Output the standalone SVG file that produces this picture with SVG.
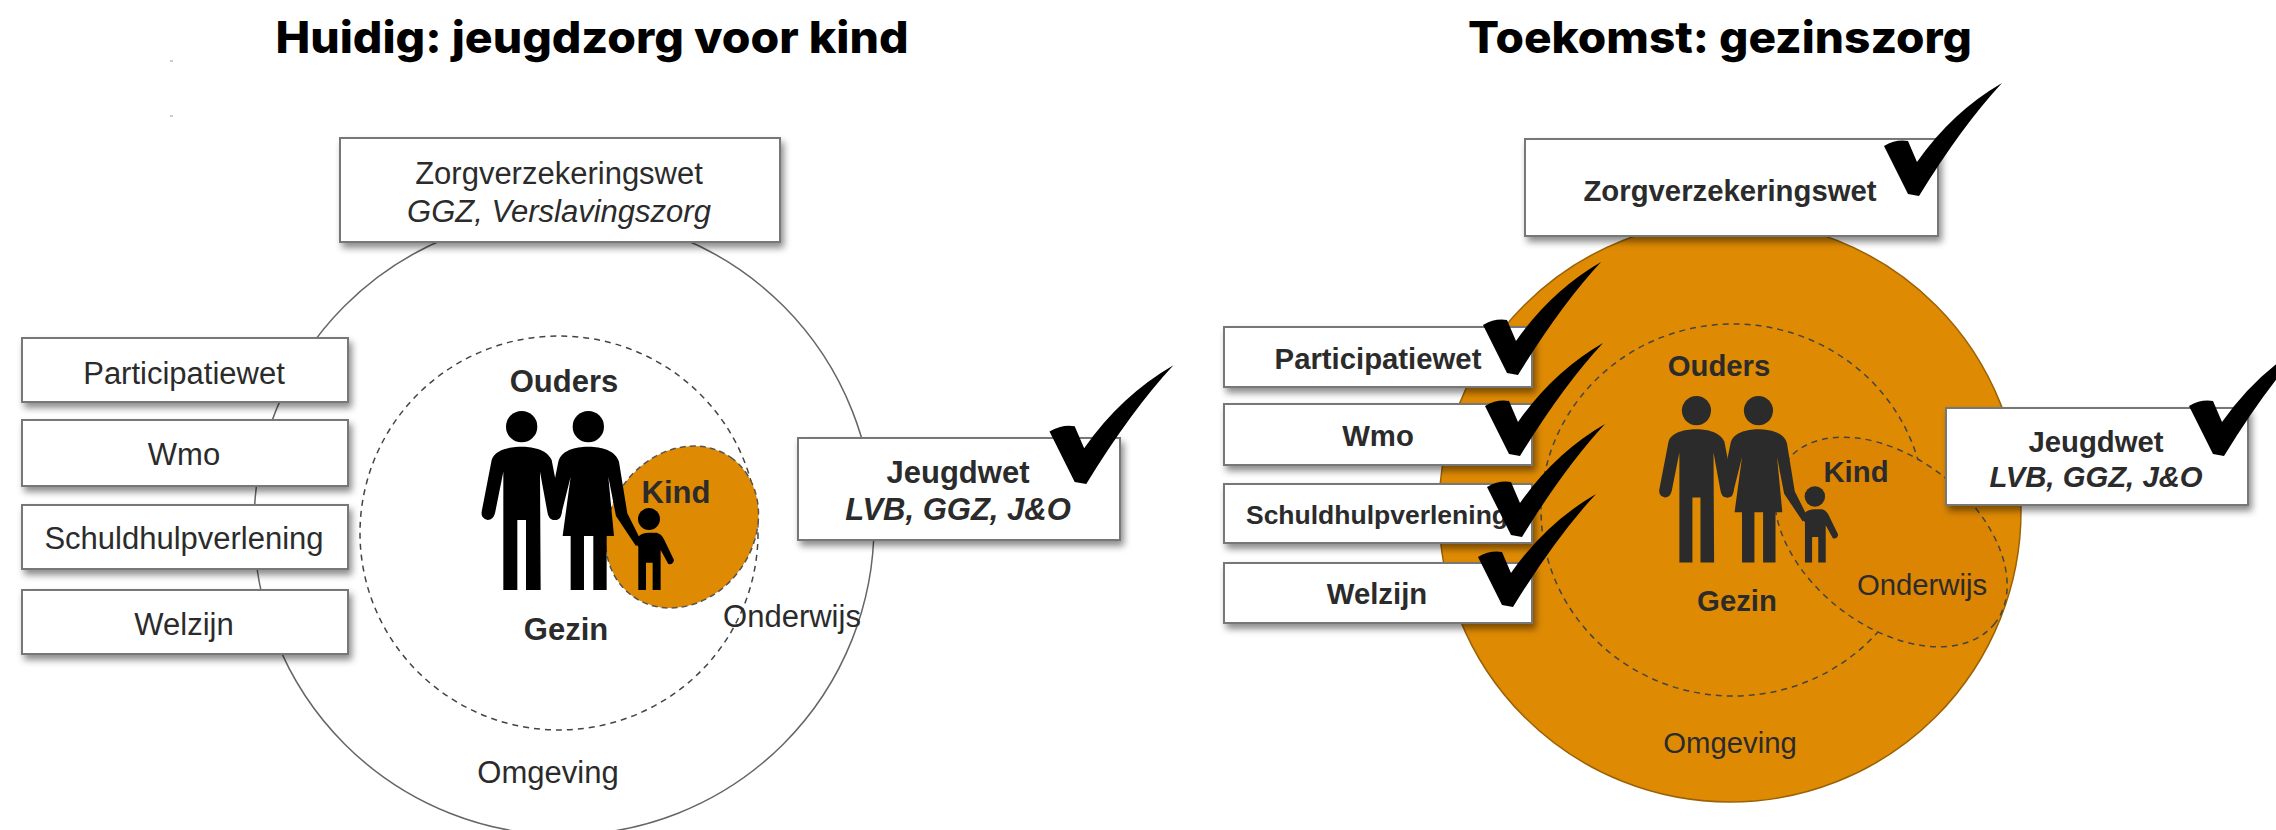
<svg xmlns="http://www.w3.org/2000/svg" width="2276" height="830" viewBox="0 0 2276 830">
<style>
text{font-family:"Liberation Sans",Arial,sans-serif;fill:#2b2b2b;text-anchor:middle}
.t{font-family:Inter,"Liberation Sans",sans-serif;font-weight:800;fill:#000;font-size:44px}
.l{font-size:31px}.r{font-size:29.3px}
.b{font-weight:700}.i{font-style:italic}
.box{fill:#fff;stroke:#777;stroke-width:2;filter:url(#sh)}
.dash{fill:none;stroke:#444;stroke-width:1.5;stroke-dasharray:6 5}
.chk{fill:#000}
</style>
<defs>
<filter id="sh" x="-10%" y="-15%" width="125%" height="140%"><feDropShadow dx="3" dy="5" stdDeviation="3.5" flood-color="#000" flood-opacity=".45"/></filter>
<path id="check" d="M-30,-50 Q-18,-57 -6,-55 L3,-34 Q38,-84 88,-113 Q48,-70 5,0 L-6,-2 Z"/>
<g id="family">
<circle cx="245" cy="140" r="47"/><circle cx="445" cy="140" r="47"/><circle cx="627" cy="417" r="33"/>
<path d="M245,200 C270,200 320,205 335,240 L365,395 Q365,420 345,420 Q325,420 322,395 L300,275 L302,630 L258,630 L258,420 L232,420 L232,630 L190,630 L190,275 L165,400 Q160,420 143,420 Q122,415 125,395 L155,240 C165,205 220,200 245,200Z"/>
<path d="M445,200 C470,200 525,205 537,245 L562,400 L604,484 L588,498 L528,408 L505,290 L522,468 L500,468 L500,630 L460,630 L460,468 L432,468 L432,630 L392,630 L392,468 L368,468 L392,290 L365,398 Q360,420 345,420 Q325,420 325,395 L355,245 C365,205 420,200 445,200Z"/>
<path d="M627,458 L650,458 Q665,462 672,478 L702,540 Q700,555 685,552 L662,510 L662,630 L638,630 L638,548 L618,548 L618,630 L595,630 L595,500 L583,484 L595,470 Q605,458 627,458Z"/>
</g>
</defs>
<rect width="2276" height="830" fill="#fff"/>
<rect x="170" y="60" width="3" height="2" fill="#ccc"/><rect x="170" y="115" width="3" height="2" fill="#ccc"/>
<text class="t" x="592" y="53" textLength="633" lengthAdjust="spacingAndGlyphs">Huidig: jeugdzorg voor kind</text>
<text class="t" x="1720" y="53" textLength="504" lengthAdjust="spacingAndGlyphs">Toekomst: gezinszorg</text>

<g id="huidig-omgeving"><circle cx="564" cy="525" r="310" fill="#fff" stroke="#666" stroke-width="1.5"/><text class="l" x="548" y="783">Omgeving</text></g>
<g id="huidig-gezin"><ellipse cx="559" cy="533" rx="199" ry="197" class="dash"/><text class="l b" x="564" y="392">Ouders</text><text class="l b" x="566" y="640">Gezin</text></g>
<g id="huidig-kind"><ellipse cx="682" cy="527" rx="85" ry="72" transform="rotate(-55 682 527)" fill="#df8a03" stroke="#555" stroke-width="1.5" stroke-dasharray="6 4"/><text class="l b" x="676" y="503">Kind</text></g>
<use href="#family" fill="#000" transform="translate(440,380) scale(.3333)"/>
<g id="huidig-onderwijs"><text class="l" x="792" y="627">Onderwijs</text></g>
<g id="huidig-zvw"><rect class="box" x="340" y="138" width="440" height="104"/><text class="l" x="559" y="184">Zorgverzekeringswet</text><text class="l i" x="559" y="222">GGZ, Verslavingszorg</text></g>
<g id="huidig-part"><rect class="box" x="22" y="338" width="326" height="64"/><text class="l" x="184" y="384">Participatiewet</text></g>
<g id="huidig-wmo"><rect class="box" x="22" y="420" width="326" height="66"/><text class="l" x="184" y="465">Wmo</text></g>
<g id="huidig-schuld"><rect class="box" x="22" y="505" width="326" height="64"/><text class="l" x="184" y="549">Schuldhulpverlening</text></g>
<g id="huidig-welzijn"><rect class="box" x="22" y="590" width="326" height="64"/><text class="l" x="184" y="635">Welzijn</text></g>
<g id="huidig-jeugdwet"><rect class="box" x="798" y="438" width="322" height="102"/><text class="l b" x="958" y="483">Jeugdwet</text><text class="l b i" x="958" y="520">LVB, GGZ, J&amp;O</text><use href="#check" class="chk" transform="translate(1081,484) scale(1.05)"/></g>

<g id="toekomst-omgeving"><circle cx="1730" cy="511" r="291" fill="#df8a03" stroke="#9a6208" stroke-width="1.5"/></g>
<g id="toekomst-gezin"><ellipse cx="1733" cy="510" rx="192" ry="186" class="dash"/></g>
<g id="toekomst-kind"><ellipse cx="1891" cy="542" rx="132" ry="84" transform="rotate(38 1891 542)" fill="#db8503" stroke="#444" stroke-width="1.5" stroke-dasharray="6 5"/></g>
<use href="#family" fill="#2b2b2b" transform="translate(1620.5,367.2) scale(.31)"/>
<text class="r" x="1730" y="753">Omgeving</text>
<text class="r b" x="1719" y="376">Ouders</text><text class="r b" x="1737" y="611">Gezin</text><text class="r b" x="1856" y="482">Kind</text><text class="r" x="1922" y="595">Onderwijs</text>
<g id="toekomst-zvw"><rect class="box" x="1525" y="139" width="413" height="97"/><text class="r b" x="1730" y="201">Zorgverzekeringswet</text><use href="#check" class="chk" transform="translate(1914,196)"/></g>
<g id="toekomst-part"><rect class="box" x="1224" y="327" width="308" height="60"/><text class="r b" x="1378" y="369">Participatiewet</text><use href="#check" class="chk" transform="translate(1513,375)"/></g>
<g id="toekomst-wmo"><rect class="box" x="1224" y="404" width="308" height="61"/><text class="r b" x="1378" y="446">Wmo</text><use href="#check" class="chk" transform="translate(1515,456)"/></g>
<g id="toekomst-schuld"><rect class="box" x="1224" y="484" width="308" height="59"/><text class="r b" x="1377" y="524" style="font-size:26.5px">Schuldhulpverlening</text><use href="#check" class="chk" transform="translate(1517,537)"/></g>
<g id="toekomst-welzijn"><rect class="box" x="1224" y="563" width="308" height="60"/><text class="r b" x="1377" y="604">Welzijn</text><use href="#check" class="chk" transform="translate(1508,607)"/></g>
<g id="toekomst-jeugdwet"><rect class="box" x="1946" y="408" width="302" height="97"/><text class="r b" x="2096" y="452">Jeugdwet</text><text class="r b i" x="2096" y="487">LVB, GGZ, J&amp;O</text><use href="#check" class="chk" transform="translate(2219,456)"/></g>
<g id="connectors"/>
</svg>
